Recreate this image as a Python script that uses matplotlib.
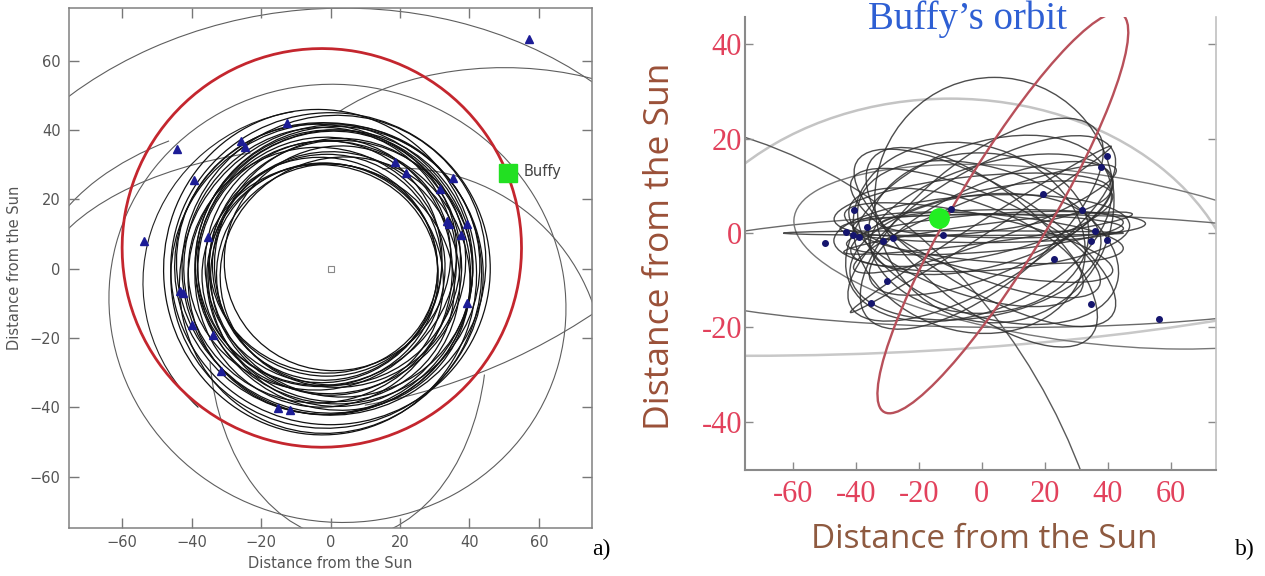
import matplotlib
matplotlib.use("Agg")
import matplotlib.pyplot as plt
from matplotlib.patches import Ellipse, Arc

# ---------------- data: panel a (face-on view) ----------------
a_ticks = [-60, -40, -20, 0, 20, 40, 60]
a_ticklabels = ["\u221260", "\u221240", "\u221220", "0", "20", "40", "60"]

# black (nearby) orbits: centre x, centre y, width, height, angle
a_orb_cx = [0, -1, 1, -2, 0, 2, -3, 1, 0, -2, 3, -1, 1, -4, 2, 0, -2, 3, -1, -3, 2, -2, -1, -3, -1, 0, -2]
a_orb_cy = [0, -2, 1, 0, -1, 1, 1, -2, 2, -1, 0, 3, -3, 0, 2, -4, 2, -1, -3, -2, 3, 1, -1, -1, 1, -3, 0]
a_orb_w = [92, 90, 88, 86, 84, 82, 80, 80, 78, 78, 76, 76, 74, 74, 72, 72, 70, 70, 68, 68, 66, 66, 64, 90, 66, 86, 82]
a_orb_h = [90, 88, 86, 84, 80, 80, 78, 76, 76, 74, 74, 72, 72, 70, 70, 68, 68, 66, 66, 64, 64, 62, 62, 94, 64, 90, 86]
a_orb_ang = [0, 10, 30, -20, 45, 0, 60, -40, 15, 80, -10, 35, -60, 5, 50, -25, 70, 20, -45, 0, 40, -15, 25, 10, 0, -30, 55]

# distant orbits, drawn as arcs: centre, width, height, angle, start, end, colour
a_far_cx = [0, 50, 2, 5, 0, 0, 20, -20, -2]
a_far_cy = [-20, 18, -10, -20, -5, -10, -30, 130, -4]
a_far_w = [230, 130, 132, 80, 170, 172, 118, 344, 104]
a_far_h = [190, 80, 126, 116, 100, 90, 118, 344, 100]
a_far_ang = [5, 0, -15, 0, 0, 0, 0, 0, 0]
a_far_t1 = [0, 0, 0, 190, 138, 118, 5, -80, 100]
a_far_t2 = [360, 150, 360, 345, 168, 172, 95, -50, 225]
a_far_col = ["#5e5e5e", "#5e5e5e", "#5e5e5e", "#5e5e5e", "#5e5e5e", "#5e5e5e", "#5e5e5e", "#5e5e5e", "#222222"]

# red orbit (Buffy)
a_red = (-2.5, 6.0, 115.0, 115.0, -10.0)
buffy_a = (51.0, 27.5)

# blue triangles: positions of the objects
a_tri_x = [57.1, -44.1, -25.8, -12.4, -39.3, -53.8, -35.3, -43.4, -39.8, -33.7, -31.6, -15.2, -11.8,
           18.5, 21.8, 35.3, 31.4, 33.6, 34.2, 39.2, 37.5, 39.2, -24.5, -42.5]
a_tri_y = [66.4, 34.6, 36.7, 42.0, 25.6, 8.1, 9.1, -6.3, -16.3, -19.0, -29.6, -40.2, -40.7,
           30.9, 27.7, 26.1, 22.9, 13.9, 12.8, 12.8, 9.6, -10.0, 35.0, -7.0]

# ---------------- data: panel b (edge-on view) ----------------
b_xticks = [-60, -40, -20, 0, 20, 40, 60]
b_xticklabels = ["-60", "-40", "-20", "0", "20", "40", "60"]
b_yticks = [-40, -20, 0, 20, 40]
b_yticklabels = ["-40", "-20", "0", "20", "40"]

b_orb_cx = [-9, 0, 1, 2, 0, -1, 3, -2, 0, 1, 0, 0, -1, 2, 3, -5, 10, 4, -0.3, -1, 2, -3, 0, -2, 1, -4]
b_orb_cy = [0, 1, 0, -1, 2, -2, 1, 0, 1, -1, 2, -3, 0, 0, 4, -3, 2, 7, 0.8, 1, -2, 6, 0, -5, 3, -1]
b_orb_w = [108, 90, 88, 86, 84, 86, 80, 82, 90, 88, 84, 80, 70, 92, 78, 76, 84, 76, 90, 86, 84, 88, 94, 80, 86, 74]
b_orb_h = [1, 6, 8, 10, 14, 12, 20, 18, 26, 24, 30, 28, 34, 4, 22, 20, 6, 52, 3, 36, 32, 12, 16, 26, 10, 40]
b_orb_ang = [0, 0, 3, -3, 8, -8, 15, -15, 20, -20, 25, -25, 0, 5, 10, -12, 0, 0, 23, 12, -10, 4, 2, 5, 14, -6]

b_far_cx = [-10, -75, -120, 10, 30]
b_far_cy = [-20, 30, -100, -8, -5]
b_far_w = [187, 600, 330, 240, 180]
b_far_h = [97, 112, 250, 24, 36]
b_far_ang = [0, 0, 0, 0, -5]
b_far_t1 = [0, 180, 0, 0, 0]
b_far_t2 = [180, 360, 90, 360, 360]
b_far_col = ["#c4c4c4", "#c8c8c8", "#5a5a5a", "#6a6a6a", "#777777"]
b_far_lw = [1.8, 1.8, 1.0, 1.0, 1.0]

b_red = (6.7, 4.25, 113.6, 25.4, 47.0)
buffy_b = (-13.5, 3.3)

b_dot_x = [-40.6, -49.8, -36.3, -41.0, -39.0, -31.4, -28.3, -12.4, -9.8, 19.4, 31.8, 37.8, 39.7,
           34.6, 39.7, 22.9, -30.2, -35.2, 34.6, 56.2, 36.0, -43.0]
b_dot_y = [4.9, -2.1, 1.4, -0.4, -0.8, -1.6, -1.0, -0.4, 5.2, 8.3, 4.9, 14.0, 16.3,
           -1.6, -1.5, -5.5, -10.1, -14.8, -15.0, -18.3, 0.5, 0.2]

# ---------------- figure ----------------
fig = plt.figure(figsize=(12.65, 5.76), dpi=100)

# ===== panel a =====
ax = fig.add_axes([69 / 1265, 48 / 576, 523 / 1265, 520 / 576])
ax.set_xlim(-75.3, 75.3)
ax.set_ylim(-74.8, 75.2)
for cx, cy, w, h, an, t1, t2, col in zip(a_far_cx, a_far_cy, a_far_w, a_far_h, a_far_ang,
                                         a_far_t1, a_far_t2, a_far_col):
    ax.add_patch(Arc((cx, cy), w, h, angle=an, theta1=t1, theta2=t2, ec=col, lw=0.8))
for cx, cy, w, h, an in zip(a_orb_cx, a_orb_cy, a_orb_w, a_orb_h, a_orb_ang):
    ax.add_patch(Ellipse((cx, cy), w, h, angle=an, fill=False, ec="#111111", lw=0.9))
cx, cy, w, h, an = a_red
ax.add_patch(Ellipse((cx, cy), w, h, angle=an, fill=False, ec="#c4262e", lw=2.0))
ax.plot(a_tri_x, a_tri_y, ls="none", marker="^", ms=6, color="#1c1c96")
ax.plot([0], [0], ls="none", marker="s", ms=5, mfc="white", mec="#888888", mew=0.8)
ax.plot([buffy_a[0]], [buffy_a[1]], ls="none", marker="s", ms=13, color="#22e022")
ax.text(buffy_a[0] + 4.5, buffy_a[1] + 0.5, "Buffy", fontsize=10.5, color="#444444",
        va="center", ha="left")
ax.set_xticks(a_ticks)
ax.set_xticklabels(a_ticklabels)
ax.set_yticks(a_ticks)
ax.set_yticklabels(a_ticklabels)
ax.tick_params(direction="in", top=True, right=True, length=7, width=1,
               color="#777777", labelcolor="#555555", labelsize=10.5)
ax.tick_params(axis="x", pad=5)
ax.tick_params(axis="y", pad=6)
for s in ax.spines.values():
    s.set_color("#808080")
    s.set_linewidth(1.1)
fig.text(330 / 1265, 1 - 563 / 576, "Distance from the Sun", ha="center", va="center",
         fontsize=10.5, color="#555555")
fig.text(15 / 1265, 1 - 268 / 576, "Distance from the Sun", ha="center", va="center",
         rotation=90, fontsize=10.5, color="#555555")
fig.text(592 / 1265, 1 - 549 / 576, "a)", ha="left", va="center", fontsize=17,
         family="Liberation Serif", color="black")

# ===== panel b =====
bx = fig.add_axes([745 / 1265, 106 / 576, 471 / 1265, 453 / 576])
bx.set_xlim(-75.2, 74.4)
bx.set_ylim(-50.2, 45.8)
for cx, cy, w, h, an, t1, t2, col, lw in zip(b_far_cx, b_far_cy, b_far_w, b_far_h, b_far_ang,
                                             b_far_t1, b_far_t2, b_far_col, b_far_lw):
    bx.add_patch(Arc((cx, cy), w, h, angle=an, theta1=t1, theta2=t2, ec=col, lw=lw))
for cx, cy, w, h, an in zip(b_orb_cx, b_orb_cy, b_orb_w, b_orb_h, b_orb_ang):
    bx.add_patch(Ellipse((cx, cy), w, h, angle=an, fill=False, ec="#2e2e2e", lw=1.0, alpha=0.85))
cx, cy, w, h, an = b_red
bx.add_patch(Ellipse((cx, cy), w, h, angle=an, fill=False, ec="#b8505a", lw=1.7))
bx.plot(b_dot_x, b_dot_y, ls="none", marker="o", ms=4, color="#15156e")
bx.plot([buffy_b[0]], [buffy_b[1]], ls="none", marker="o", ms=14, color="#22ee22")

bx.set_xticks(b_xticks)
bx.set_xticklabels(b_xticklabels)
bx.set_yticks(b_yticks)
bx.set_yticklabels(b_yticklabels)
bx.tick_params(direction="in", right=True, length=6, width=1, color="#8a8a8a",
               labelcolor="#e2415c", labelsize=22)
for lab in bx.get_xticklabels() + bx.get_yticklabels():
    lab.set_family("Liberation Serif")
bx.tick_params(axis="x", pad=7)
bx.tick_params(axis="y", pad=2)
bx.spines["top"].set_visible(False)
bx.spines["left"].set_color("#8a8a8a")
bx.spines["bottom"].set_color("#8a8a8a")
bx.spines["left"].set_linewidth(1.5)
bx.spines["bottom"].set_linewidth(1.5)
bx.spines["right"].set_color("#c0c0c0")
bx.spines["right"].set_linewidth(1.2)

fig.text(967 / 1265, 1 - 19 / 576, "Buffy\u2019s orbit", ha="center", va="center",
         fontsize=28, family="Liberation Serif", color="#2e5fd3")
fig.text(984 / 1265, 1 - 540 / 576, "Distance from the Sun", ha="center", va="center",
         fontsize=24, family="Open Sans", color="#8e5a40")
fig.text(660 / 1265, 1 - 246 / 576, "Distance from the Sun", ha="center", va="center",
         rotation=90, fontsize=25.5, family="Open Sans", color="#9a5038")
fig.text(1235 / 1265, 1 - 549 / 576, "b)", ha="left", va="center", fontsize=17,
         family="Liberation Serif", color="black")

fig.savefig("out.png", dpi=100, facecolor="white")
